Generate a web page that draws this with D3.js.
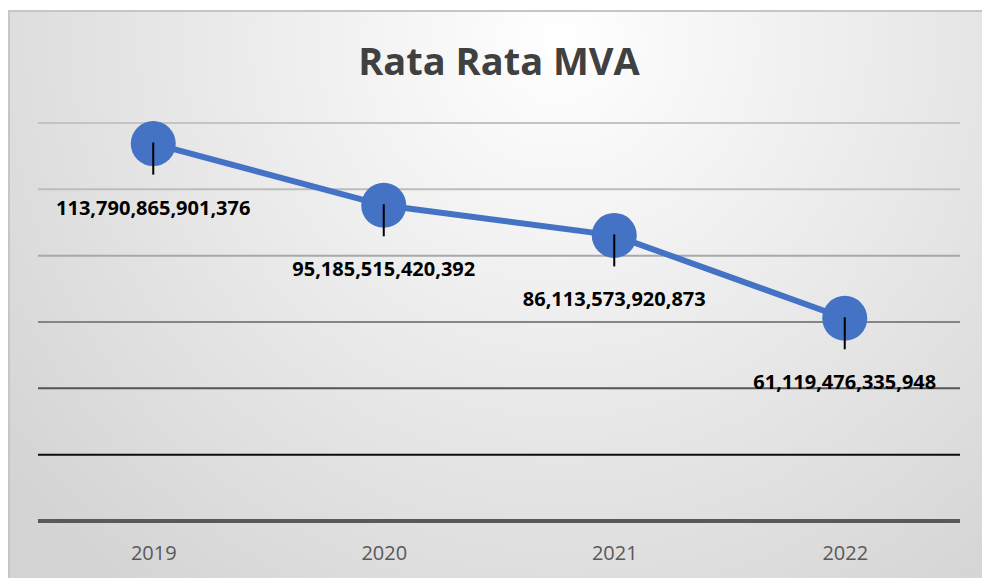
<!DOCTYPE html>
<html>
<head>
<meta charset="utf-8">
<script src="https://cdn.jsdelivr.net/npm/d3@7"></script>
<style>
  body { margin: 0; background: #fff; }
  svg { display: block; }
</style>
</head>
<body>
<svg id="chart" width="982" height="578"></svg>
<script>
var years = ["2019", "2020", "2021", "2022"];
var mva = [113790865901376, 95185515420392, 86113573920873, 61119476335948];
var yTicks = [0, 20e12, 40e12, 60e12, 80e12, 100e12, 120e12];
var title = "Rata Rata MVA";

var data = years.map(function(d, i) { return { year: d, value: mva[i] }; });

var width = 982, height = 578;
var plot = { left: 38, right: 960, top: 123, bottom: 521 };

var svg = d3.select("#chart");

// background gradient
var defs = svg.append("defs");
var grad = defs.append("radialGradient")
    .attr("id", "bg")
    .attr("gradientUnits", "userSpaceOnUse")
    .attr("cx", 560).attr("cy", 40).attr("r", 700);
grad.append("stop").attr("offset", "0%").attr("stop-color", "#ffffff");
grad.append("stop").attr("offset", "100%").attr("stop-color", "#d4d4d4");

svg.append("rect")
    .attr("x", 9).attr("y", 11)
    .attr("width", width + 10).attr("height", height + 10)
    .attr("fill", "url(#bg)")
    .attr("stroke", "#c6c6c6")
    .attr("stroke-width", 2);

var x = d3.scalePoint()
    .domain(years)
    .range([plot.left, plot.right])
    .padding(0.5);

var y = d3.scaleLinear()
    .domain([0, 120e12])
    .range([plot.bottom, plot.top]);

// gridlines get darker towards the bottom
var gridColors = ["#595959", "#0d0d0d", "#555555", "#858585", "#a8a8a8", "#bdbdbd", "#c4c4c4"];
svg.append("g")
    .attr("class", "grid")
    .selectAll("line")
    .data(yTicks)
    .join("line")
      .attr("x1", plot.left)
      .attr("x2", plot.right)
      .attr("y1", function(d) { return y(d); })
      .attr("y2", function(d) { return y(d); })
      .attr("stroke", function(d, i) { return gridColors[i]; })
      .attr("stroke-width", function(d) { return d === 0 ? 4 : 2; });

// x axis labels
var xAxis = d3.axisBottom(x).tickSize(0).tickPadding(0);
var gx = svg.append("g")
    .attr("class", "axis axis--x")
    .attr("transform", "translate(0," + plot.bottom + ")")
    .call(xAxis);
gx.select(".domain").remove();
gx.selectAll("text")
    .attr("dy", null)
    .attr("y", 39)
    .attr("fill", "#595959")
    .style("font-family", "'Open Sans', sans-serif")
    .style("font-size", "20px");

// title
svg.append("text")
    .attr("x", 499)
    .attr("y", 75)
    .attr("text-anchor", "middle")
    .attr("fill", "#404040")
    .style("font-family", "'Open Sans', sans-serif")
    .style("font-weight", "bold")
    .style("font-size", "38px")
    .text(title);

var line = d3.line()
    .x(function(d) { return x(d.year); })
    .y(function(d) { return y(d.value); });

svg.append("path")
    .datum(data)
    .attr("class", "line")
    .attr("d", line)
    .attr("fill", "none")
    .attr("stroke", "#4472C4")
    .attr("stroke-width", 6);

svg.append("g")
    .selectAll("circle")
    .data(data)
    .join("circle")
      .attr("cx", function(d) { return x(d.year); })
      .attr("cy", function(d) { return y(d.value); })
      .attr("r", 22.5)
      .attr("fill", "#4472C4");

svg.append("g")
    .selectAll("line")
    .data(data)
    .join("line")
      .attr("x1", function(d) { return x(d.year); })
      .attr("x2", function(d) { return x(d.year); })
      .attr("y1", function(d) { return y(d.value) - 1; })
      .attr("y2", function(d) { return y(d.value) + 31; })
      .attr("stroke", "#000")
      .attr("stroke-width", 2);

var fmt = d3.format(",.0f");
svg.append("g")
    .selectAll("text")
    .data(data)
    .join("text")
      .attr("x", function(d) { return x(d.year); })
      .attr("y", function(d) { return y(d.value) + 71; })
      .attr("text-anchor", "middle")
      .attr("fill", "#000")
      .style("font-family", "'Open Sans', sans-serif")
      .style("font-weight", "bold")
      .style("font-size", "20px")
      .text(function(d) { return fmt(d.value); });
</script>
</body>
</html>
